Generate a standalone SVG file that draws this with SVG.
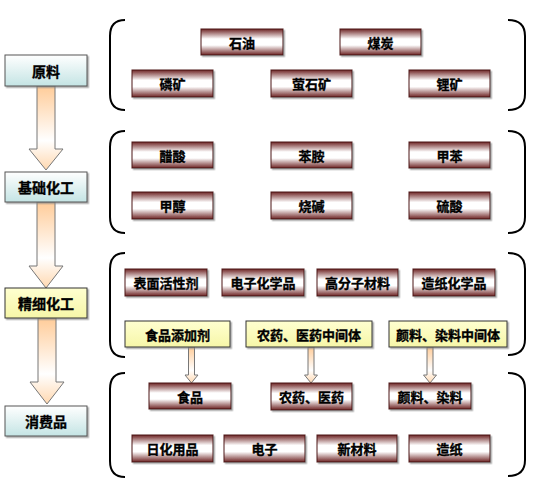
<svg xmlns="http://www.w3.org/2000/svg" width="536" height="493" viewBox="0 0 536 493">
<defs>
<linearGradient id="gBrown" x1="0" y1="0" x2="0" y2="1">
<stop offset="0" stop-color="#6e2424"/>
<stop offset="0.38" stop-color="#ffffff"/>
<stop offset="0.62" stop-color="#ffffff"/>
<stop offset="1" stop-color="#6e2424"/>
</linearGradient>
<linearGradient id="gCyan" x1="0" y1="0" x2="0" y2="1">
<stop offset="0" stop-color="#ffffff"/>
<stop offset="1" stop-color="#c4e4e4"/>
</linearGradient>
<linearGradient id="gYellow" x1="0" y1="0" x2="0" y2="1">
<stop offset="0" stop-color="#ffffd0"/>
<stop offset="1" stop-color="#f6f6a8"/>
</linearGradient>
<linearGradient id="gArrow" x1="0" y1="0" x2="0" y2="1">
<stop offset="0" stop-color="#ffcc99"/>
<stop offset="0.65" stop-color="#ffffff"/>
<stop offset="1" stop-color="#ffd8b0"/>
</linearGradient>
<filter id="sh" x="-10%" y="-10%" width="130%" height="140%">
<feDropShadow dx="1.5" dy="1.5" stdDeviation="0.6" flood-color="#888" flood-opacity="0.7"/>
</filter>
</defs>
<style>
text{font-family:"Noto Sans CJK SC","Noto Sans",sans-serif;font-weight:bold;font-size:13px;fill:#000;stroke:#000;stroke-width:0.35;text-anchor:middle;dominant-baseline:central}
text.l{font-size:14px}
.b{fill:url(#gBrown);stroke:#4a1414;stroke-width:1;filter:url(#sh)}
.c{fill:url(#gCyan);stroke:#555;stroke-width:1;filter:url(#sh)}
.y{fill:url(#gYellow);stroke:#333;stroke-width:1;filter:url(#sh)}
.ar{fill:url(#gArrow);stroke:#777;stroke-width:1}
.br{fill:none;stroke:#000;stroke-width:2}
</style>

<g id="connectors">
<path class="ar" d="M37,86 L55,86 L55,149 L63,149 L46,170 L29,149 L37,149 Z"/>
<path class="ar" d="M37,202 L55,202 L55,266 L63,266 L46,288 L29,266 L37,266 Z"/>
<path class="ar" d="M38,318 L56,318 L56,382 L64,382 L47,404 L30,382 L38,382 Z"/>
<path class="ar" d="M188.5,347 L194.5,347 L194.5,375 L198,375 L191.5,383 L185,375 L188.5,375 Z"/>
<path class="ar" d="M308,347 L314,347 L314,375 L317.5,375 L311,383 L304.5,375 L308,375 Z"/>
<path class="ar" d="M427,347 L433,347 L433,375 L436.5,375 L430,383 L423.5,375 L427,375 Z"/>
</g>

<g id="brackets">
<path class="br" d="M125,20 Q110,20 110,36 L110,94 Q110,110 125,110"/>
<path class="br" d="M508,20 Q525,20 525,36 L525,94 Q525,110 508,110"/>
<path class="br" d="M125,131 Q110,131 110,147 L110,217 Q110,233 125,233"/>
<path class="br" d="M508,131 Q525,131 525,147 L525,217 Q525,233 508,233"/>
<path class="br" d="M125,253 Q110,253 110,269 L110,341 Q110,357 125,357"/>
<path class="br" d="M508,253 Q525,253 525,269 L525,339 Q525,355 508,355"/>
<path class="br" d="M125,373 Q110,373 110,389 L110,461 Q110,477 125,477"/>
<path class="br" d="M508,373 Q525,373 525,389 L525,460 Q525,476 508,476"/>
</g>

<g id="n-yuanliao"><rect class="c" x="5" y="55" width="82" height="31"/><text class="l" x="46" y="71">原料</text></g>
<g id="n-jichu"><rect class="c" x="5" y="172" width="82" height="30"/><text class="l" x="46" y="187">基础化工</text></g>
<g id="n-jingxi"><rect class="y" x="5" y="288" width="82" height="30"/><text class="l" x="46" y="303">精细化工</text></g>
<g id="n-xiaofei"><rect class="c" x="5" y="406" width="82" height="30"/><text class="l" x="46" y="421">消费品</text></g>

<g id="n-shiyou"><rect class="b" x="201" y="29" width="82" height="26"/><text x="242" y="42">石油</text></g>
<g id="n-meitan"><rect class="b" x="340" y="29" width="81" height="26"/><text x="380.5" y="42">煤炭</text></g>
<g id="n-linkuang"><rect class="b" x="132" y="70" width="81" height="27"/><text x="172.5" y="83.5">磷矿</text></g>
<g id="n-yingshi"><rect class="b" x="271" y="70" width="81" height="27"/><text x="311.5" y="83.5">萤石矿</text></g>
<g id="n-likuang"><rect class="b" x="409" y="70" width="81" height="27"/><text x="449.5" y="83.5">锂矿</text></g>

<g id="n-cusuan"><rect class="b" x="132" y="142" width="81" height="26"/><text x="172.5" y="155">醋酸</text></g>
<g id="n-benan"><rect class="b" x="271" y="142" width="81" height="26"/><text x="311.5" y="155">苯胺</text></g>
<g id="n-jiaben"><rect class="b" x="409" y="142" width="81" height="26"/><text x="449.5" y="155">甲苯</text></g>
<g id="n-jiachun"><rect class="b" x="132" y="192" width="81" height="27"/><text x="172.5" y="205.5">甲醇</text></g>
<g id="n-shaojian"><rect class="b" x="271" y="192" width="81" height="27"/><text x="311.5" y="205.5">烧碱</text></g>
<g id="n-liusuan"><rect class="b" x="409" y="192" width="81" height="27"/><text x="449.5" y="205.5">硫酸</text></g>

<g id="n-biaomian"><rect class="b" x="125" y="269" width="82" height="27"/><text x="166" y="282.5">表面活性剂</text></g>
<g id="n-dianzihx"><rect class="b" x="222" y="269" width="82" height="27"/><text x="263" y="282.5">电子化学品</text></g>
<g id="n-gaofenzi"><rect class="b" x="317" y="269" width="81" height="27"/><text x="357.5" y="282.5">高分子材料</text></g>
<g id="n-zaozhihx"><rect class="b" x="413" y="269" width="82" height="27"/><text x="454" y="282.5">造纸化学品</text></g>
<g id="n-shipintj"><rect class="y" x="125" y="321" width="105" height="26"/><text x="177.5" y="334">食品添加剂</text></g>
<g id="n-nongyaozj"><rect class="y" x="246" y="321" width="126" height="26"/><text x="309" y="334">农药、医药中间体</text></g>
<g id="n-yanliaozj"><rect class="y" x="389" y="321" width="118" height="26"/><text x="448" y="334">颜料、染料中间体</text></g>

<g id="n-shipin"><rect class="b" x="149" y="383" width="82" height="26"/><text x="190" y="396">食品</text></g>
<g id="n-nongyao"><rect class="b" x="271" y="383" width="81" height="27"/><text x="311.5" y="396.5">农药、医药</text></g>
<g id="n-yanliao"><rect class="b" x="389" y="383" width="82" height="26"/><text x="430" y="396">颜料、染料</text></g>
<g id="n-rihua"><rect class="b" x="132" y="435" width="81" height="27"/><text x="172.5" y="448.5">日化用品</text></g>
<g id="n-dianzi"><rect class="b" x="224" y="435" width="81" height="27"/><text x="264.5" y="448.5">电子</text></g>
<g id="n-xincailiao"><rect class="b" x="317" y="435" width="80" height="27"/><text x="357" y="448.5">新材料</text></g>
<g id="n-zaozhi"><rect class="b" x="409" y="435" width="81" height="27"/><text x="449.5" y="448.5">造纸</text></g>
</svg>
